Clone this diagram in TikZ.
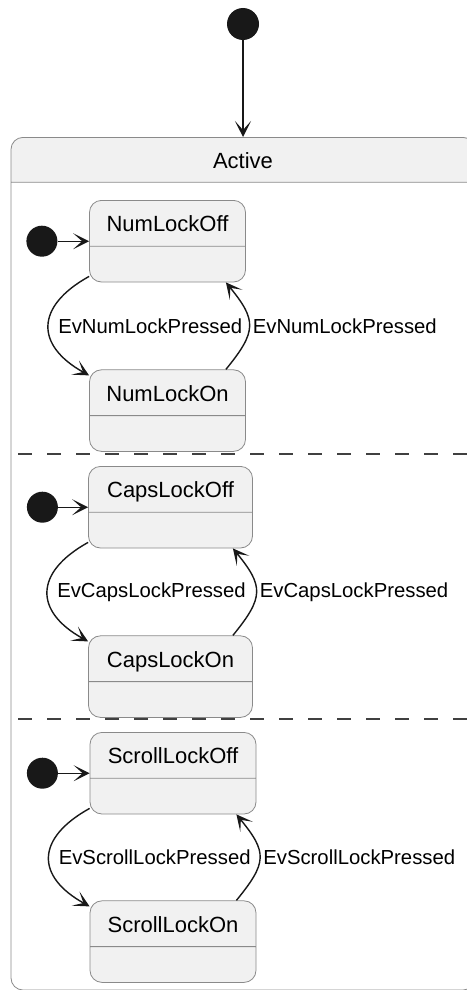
\documentclass[tikz,border=0pt]{standalone}
\usepackage{fontspec}
\setmainfont{Liberation Sans}
\usetikzlibrary{shapes.multipart, arrows.meta, positioning}

\definecolor{statefill}{HTML}{F1F1F1}
\definecolor{stateline}{HTML}{8A8A8A}
\definecolor{ink}{HTML}{181818}
\newcommand{\statetext}[1]{\rule[-14pt]{0pt}{45pt}#1\nodepart{two}\rule{0pt}{35pt}}

\begin{document}
\begin{tikzpicture}[x=1pt, y=-1pt, node distance=87pt,
  statebox/.style={rectangle split, rectangle split parts=2, draw=stateline, line width=0.8pt, fill=statefill, rounded corners=12pt, inner sep=0pt, font=\fontsize{22}{26}\selectfont, anchor=north},
  composite/.style={rectangle split, rectangle split parts=2, draw=stateline, line width=0.8pt, rectangle split part fill={statefill, white}, rounded corners=12pt, inner sep=0pt, minimum width=464pt, font=\fontsize{22}{26}\selectfont, anchor=north},
  startdot/.style={circle, fill=ink, inner sep=0pt, minimum size=31pt},
  arrow/.style={draw=ink, line width=1.4pt, -{Stealth[length=16pt, width=16pt, inset=9pt]}},
  evlabel/.style={font=\fontsize{20.3}{24}\selectfont, anchor=west, inner sep=1pt},
  divider/.style={draw=black!75, line width=2.2pt, dash pattern=on 14pt off 15pt}
]
\useasboundingbox (0,0) rectangle (466,990);

\node[startdot, minimum size=32pt] (start) at (243,24) {};
\node[composite] (active) at (243,137) {\rule[-13.5pt]{0pt}{44pt}Active\nodepart{two}\rule{0pt}{807pt}};

% regions of Active
\draw[divider] (18,454) -- (475,454);
\draw[divider] (18,719) -- (475,719);

% num lock
\node[statebox, minimum width=156pt] (numoff) at (167.5,200) {\statetext{NumLockOff}};
\node[statebox, minimum width=156pt, below=of numoff] (numon) {\statetext{NumLockOn}};
\node[startdot, left=31.5pt of numoff] (numinit) {};

% caps lock
\node[statebox, minimum width=164pt] (capsoff) at (170.5,466) {\statetext{CapsLockOff}};
\node[statebox, minimum width=164pt, below=of capsoff] (capson) {\statetext{CapsLockOn}};
\node[startdot, left=30pt of capsoff] (capsinit) {};

% scroll lock
\node[statebox, minimum width=166pt] (scrolloff) at (173,732) {\statetext{ScrollLockOff}};
\node[statebox, minimum width=166pt, below=86pt of scrolloff] (scrollon) {\statetext{ScrollLockOn}};
\node[startdot, left=31.5pt of scrolloff] (scrollinit) {};

\draw[arrow] (start) -- (active);
\draw[arrow] (numinit) -- (numoff);
\draw[arrow] (capsinit) -- (capsoff);
\draw[arrow] (scrollinit) -- (scrolloff);

\draw[arrow] ([yshift=6pt]numoff.south west) .. controls +(-54,30) and +(-54,-30) .. ([yshift=-6pt]numon.north west) node[evlabel, pos=0.5, xshift=8pt] {EvNumLockPressed};
\draw[arrow] ([xshift=-20pt]numon.north east) .. controls +(31,-38) and +(31,38) .. ([xshift=-20pt]numoff.south east) node[evlabel, pos=0.5, xshift=2pt] {EvNumLockPressed};

\draw[arrow] ([yshift=6pt]capsoff.south west) .. controls +(-54,30) and +(-54,-30) .. ([yshift=-6pt]capson.north west) node[evlabel, pos=0.5, xshift=8pt] {EvCapsLockPressed};
\draw[arrow] ([xshift=-20pt]capson.north east) .. controls +(31,-38) and +(31,38) .. ([xshift=-20pt]capsoff.south east) node[evlabel, pos=0.5, xshift=2pt] {EvCapsLockPressed};

\draw[arrow] ([yshift=6pt]scrolloff.south west) .. controls +(-54,30) and +(-54,-30) .. ([yshift=-6pt]scrollon.north west) node[evlabel, pos=0.5, xshift=8pt] {EvScrollLockPressed};
\draw[arrow] ([xshift=-20pt]scrollon.north east) .. controls +(31,-38) and +(31,38) .. ([xshift=-20pt]scrolloff.south east) node[evlabel, pos=0.5, xshift=2pt] {EvScrollLockPressed};

\end{tikzpicture}
\end{document}
